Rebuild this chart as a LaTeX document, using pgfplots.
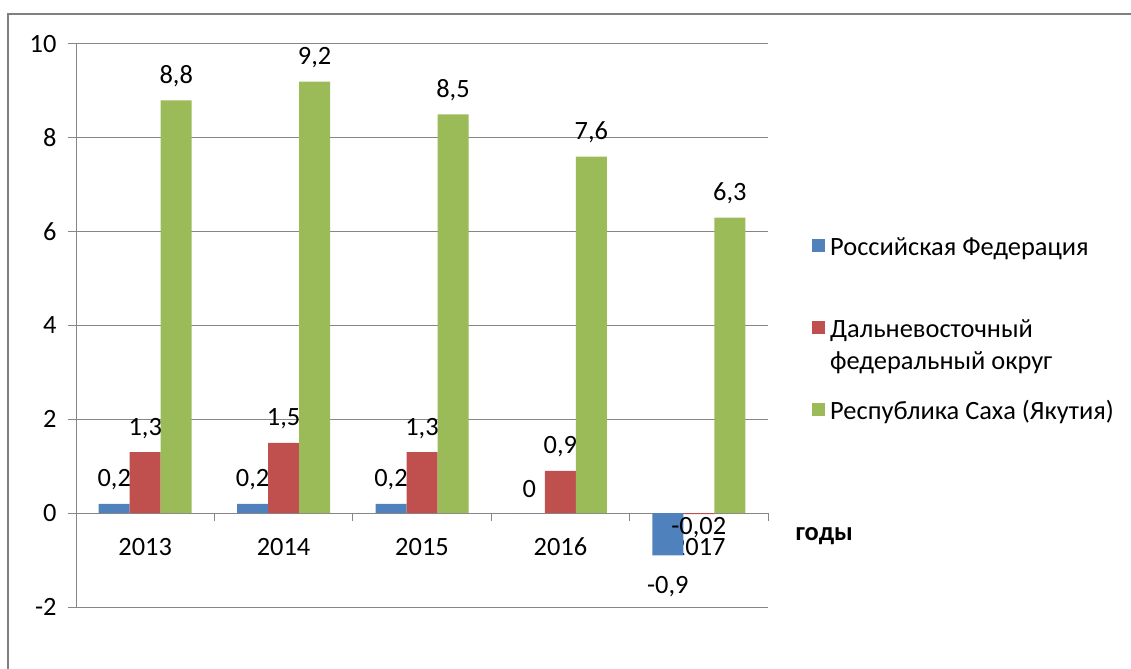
\documentclass[border=0pt]{standalone}
\usepackage{fontspec}
\setmainfont{Carlito}
\usepackage{pgfplots}
\pgfplotsset{compat=1.18}
\definecolor{rfblue}{RGB}{79,129,189}
\definecolor{dfored}{RGB}{192,80,77}
\definecolor{sakhagreen}{RGB}{155,187,89}
\definecolor{gridgray}{RGB}{134,134,134}
\newcommand{\chartfont}{\fontsize{26.5}{32}\selectfont}
\begin{document}
\begin{tikzpicture}
\path[use as bounding box] (-76bp,-62bp) rectangle (1055bp,607bp);
\draw[color=gray, line width=2.5bp] (-68bp,-62bp) -- (-68bp,593bp) -- (1055bp,593bp);
\begin{axis}[
  scale only axis, width=692bp, height=563bp,
  clip=false,
  ybar=0pt, bar width=31bp,
  xmin=-0.5, xmax=4.5, ymin=-2, ymax=10,
  axis x line*=middle, axis y line*=left,
  axis line style={draw=gridgray, line width=1bp},
  xtick={0,...,4}, xticklabels={2013,2014,2015,2016,2017},
  major x tick style={draw=none},
  minor xtick={-0.5,0.5,...,4.5},
  minor x tick style={draw=gridgray, line width=1bp},
  ytick={-2,0,2,4,6,8,10}, yticklabels={-2,0,2,4,6,8,10},
  y tick style={draw=gridgray, line width=1bp},
  tick align=outside,
  major tick length=8bp, minor tick length=8bp,
  ymajorgrids, major grid style={draw=gridgray, line width=1bp},
  tick label style={font=\chartfont},
  xticklabel style={anchor=base, yshift=-34bp},
  yticklabel style={xshift=-8bp},
  point meta=explicit symbolic,
  visualization depends on={rawy \as \rawy},
  nodes near coords,
  every node near coord/.append style={font=\chartfont, black, anchor=center,
    yshift={ifthenelse(\rawy<-0.5,-31,ifthenelse(\rawy<0,-14,24))*1bp}},
  sq legend/.style={legend image code/.code={\fill[##1] (0bp,-5bp) rectangle (13bp,8bp);}},
  legend cell align=left,
  legend style={draw=none, fill=none, inner sep=0pt, row sep=25bp,
    at={(axis description cs:1.0636,0.66)}, anchor=north west,
    font=\chartfont, cells={align=left},
    /tikz/every odd column/.append style={column sep=3bp}},
]
\addplot[fill=rfblue, draw=none, sq legend] coordinates {
  (0,0.2) [{0,2}] (1,0.2) [{0,2}] (2,0.2) [{0,2}] (3,0) [0] (4,-0.9) [{-0,9}]};
\addplot[fill=dfored, draw=none, sq legend] coordinates {
  (0,1.3) [{1,3}] (1,1.5) [{1,5}] (2,1.3) [{1,3}] (3,0.9) [{0,9}] (4,-0.02) [{-0,02}]};
\addplot[fill=sakhagreen, draw=none, sq legend] coordinates {
  (0,8.8) [{8,8}] (1,9.2) [{9,2}] (2,8.5) [{8,5}] (3,7.6) [{7,6}] (4,6.3) [{6,3}]};
\addlegendentry{Российская Федерация}
\addlegendentry{\rule{0pt}{52bp}Дальневосточный\\федеральный округ}
\addlegendentry{Республика Саха (Якутия)}
\node[anchor=base west, font=\bfseries\chartfont, xshift=24bp, yshift=-27bp]
  at (axis cs:4.5,0) {годы};
\end{axis}
\end{tikzpicture}
\end{document}
